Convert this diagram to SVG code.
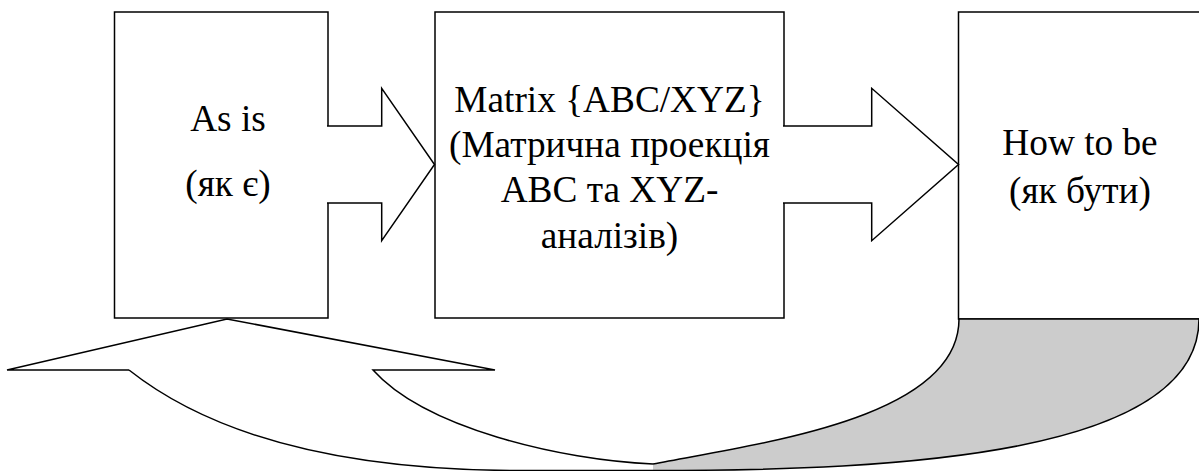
<svg xmlns="http://www.w3.org/2000/svg" width="1199" height="471" viewBox="0 0 1199 471">
<style>
.box{fill:#ffffff;stroke:#000000;stroke-width:1.5}
.arr{fill:#ffffff;stroke:#000000;stroke-width:1.5;stroke-linejoin:miter}
.ln{fill:none;stroke:#000000;stroke-width:1.5}
.t{font-family:'Liberation Serif','DejaVu Serif',serif;font-size:37.3px;fill:#000000;text-anchor:middle}
</style>
<rect width="1199" height="471" fill="#ffffff"/>
<g id="node-as-is">
<rect class="box" x="114.5" y="12" width="213.5" height="306"/>
<text class="t" x="228" y="131">As is</text>
<text class="t" x="228" y="196">(як є)</text>
</g>
<g id="node-matrix">
<rect class="box" x="435" y="12" width="349" height="306"/>
<text class="t" x="609.5" y="112">Matrix {ABC/XYZ}</text>
<text class="t" x="609.5" y="157">(Матрична проекція</text>
<text class="t" x="609.5" y="202">ABC та XYZ-</text>
<text class="t" x="609.5" y="248">аналізів)</text>
</g>
<g id="node-how-to-be">
<rect class="box" x="958.5" y="12" width="245" height="307"/>
<text class="t" x="1080" y="155">How to be</text>
<text class="t" x="1080" y="203">(як бути)</text>
</g>
<g id="connectors">
<path id="arrow-1" class="arr" d="M 327 126 H 381.7 V 88.3 L 434.5 164.5 L 381.7 240.7 V 203 H 327"/>
<path id="arrow-2" class="arr" d="M 783 126 H 871.7 V 88.3 L 958.5 164.5 L 871.7 240.7 V 203 H 783"/>
<g id="arrow-back">
<path d="M 653 464 C 753 444 959 420 959 319 L 1199 319 C 1199 455 900 470.5 653 470.5 Z" fill="#cccccc" stroke="none"/>
<path d="M 227 319 L 495 370 L 373 370 C 425 428 560 460 653 464 L 653 470.5 L 520 470.5 C 380 470.5 229 449 129 370 L 7 370 Z" fill="#ffffff" stroke="none"/>
<path class="ln" d="M 129 370 L 7 370 L 227 319 L 495 370 L 373 370 C 425 428 560 460 653 464"/>
<path class="ln" d="M 129 370 C 229 449 380 470.5 520 470.5 L 653 470.5 C 900 470.5 1199 455 1199 319"/>
<path class="ln" d="M 653 464 C 753 444 959 420 959 319"/>
<path class="ln" d="M 958.5 319 H 1199"/>
</g>
</g>
</svg>
